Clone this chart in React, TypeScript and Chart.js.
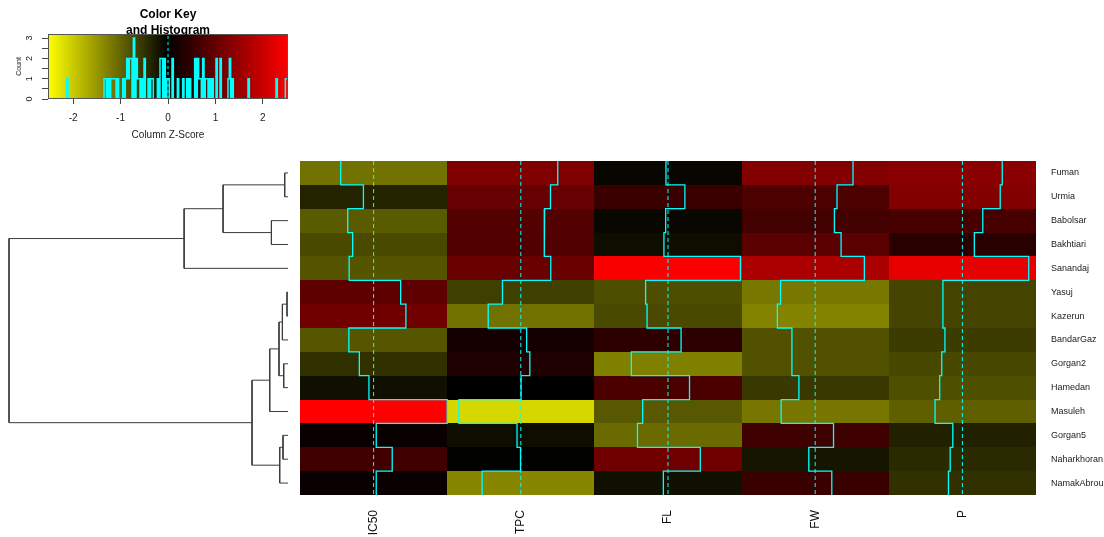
import React, { useEffect, useRef } from "react";
import { Chart, registerables } from "chart.js";
Chart.register(...registerables);

// ---------- data ----------
const rowNames = ["Fuman", "Urmia", "Babolsar", "Bakhtiari", "Sanandaj", "Yasuj", "Kazerun", "BandarGaz", "Gorgan2", "Hamedan", "Masuleh", "Gorgan5", "Naharkhoran", "NamakAbrou"];
const colNames = ["IC50", "TPC", "FL", "FW", "P"];
// column z-scores, one array per column, in row order
const ic50 = [-1.13, -0.35, -0.89, -0.72, -0.84, 0.93, 1.11, -0.85, -0.49, -0.16, 2.53, 0.09, 0.64, 0.09];
const tpc = [1.27, 1.02, 0.82, 0.80, 1.03, -0.63, -1.12, 0.20, 0.31, 0.01, -2.13, -0.13, -0.01, -1.33];
const fl = [-0.07, 0.58, -0.08, -0.14, 2.49, -0.77, -0.72, 0.45, -1.26, 0.74, -0.87, -1.05, 1.11, -0.16];
const fw = [1.30, 0.75, 0.66, 0.89, 1.69, -1.19, -1.30, -0.80, -0.80, -0.56, -1.17, 0.63, -0.22, 0.57];
const pCol = [1.37, 1.30, 0.70, 0.41, 2.28, -0.67, -0.67, -0.60, -0.71, -0.78, -0.94, -0.33, -0.42, -0.48];

const zLimit = 2.53;
const histBins = 180;
const keyTicks = [-2, -1, 0, 1, 2];
const countTicks = [0, 0.5, 1, 1.5, 2, 2.5, 3];
const countMax = 3.2;

// row dendrogram (hclust-style merge: negative = leaf, positive = earlier merge)
const mergeA = [-1, -3, 1, 3, -6, 5, -9, 6, 8, -12, 10, 9, 4];
const mergeB = [-2, -4, 2, -5, -7, -8, -10, 7, -11, -13, -14, 11, 12];
const mergeHeight = [0.33, 1.66, 6.5, 10.4, 0.1, 0.56, 0.43, 0.9, 1.83, 0.5, 0.83, 3.6, 27.93];

const FONT = "'Liberation Sans', Arial, Helvetica, sans-serif";
const CYAN = "#00ffff";

const columns = [ic50, tpc, fl, fw, pCol];

function zColor(z: number): string {
  const t = Math.min(1, Math.abs(z) / zLimit);
  const v = Math.round(t * 255);
  return z < 0 ? `rgb(${v},${v},0)` : `rgb(${v},0,0)`;
}
const clampZ = (z: number) => Math.max(-zLimit, Math.min(zLimit, z));

// ---------- components ----------
function ColorKey() {
  const ref = useRef<HTMLCanvasElement>(null);
  useEffect(() => {
    const all = columns.flat();
    const counts = new Array(histBins).fill(0);
    all.forEach((v) => {
      const b = Math.min(histBins - 1, Math.max(0, Math.floor(((clampZ(v) + zLimit) / (2 * zLimit)) * histBins)));
      counts[b] += 1;
    });
    const histPts = Array.from({ length: histBins + 1 }, (_, i) => ({
      x: -zLimit + (i * 2 * zLimit) / histBins,
      y: counts[Math.min(i, histBins - 1)],
    }));
    const gradientPlugin = {
      id: "keyGradient",
      beforeDatasetsDraw(chart: any) {
        const { ctx, chartArea: a, scales } = chart;
        const xs = scales.x;
        const x0 = xs.getPixelForValue(-zLimit);
        const x1 = xs.getPixelForValue(zLimit);
        const g = ctx.createLinearGradient(x0, 0, x1, 0);
        g.addColorStop(0, zColor(-zLimit));
        g.addColorStop(0.5, zColor(0));
        g.addColorStop(1, zColor(zLimit));
        ctx.save();
        ctx.fillStyle = g;
        ctx.fillRect(a.left, a.top, a.right - a.left, a.bottom - a.top);
        ctx.restore();
      },
      afterDatasetsDraw(chart: any) {
        const { ctx, chartArea: a } = chart;
        ctx.save();
        ctx.strokeStyle = "#555";
        ctx.lineWidth = 1;
        ctx.strokeRect(a.left + 0.5, a.top + 0.5, a.right - a.left - 1, a.bottom - a.top - 1);
        ctx.fillStyle = "#000";
        ctx.font = `bold 12px ${FONT}`;
        ctx.textAlign = "center";
        ctx.textBaseline = "middle";
        const cx = (a.left + a.right) / 2;
        ctx.fillText("Color Key", cx, a.top - 19);
        ctx.fillText("and Histogram", cx, a.top - 3);
        ctx.restore();
      },
    };
    const chart = new Chart(ref.current!, {
      type: "scatter",
      data: {
        datasets: [
          {
            data: histPts,
            showLine: true,
            stepped: "before",
            borderColor: CYAN,
            borderWidth: 1.5,
            pointRadius: 0,
          } as any,
          {
            data: [{ x: 0, y: 0 }, { x: 0, y: countMax }],
            showLine: true,
            borderColor: CYAN,
            borderWidth: 1,
            borderDash: [3, 3],
            pointRadius: 0,
          },
        ],
      },
      options: {
        animation: false,
        responsive: false,
        events: [],
        layout: { padding: { top: 34, right: 12, left: 0, bottom: 0 } },
        plugins: { legend: { display: false }, tooltip: { enabled: false } },
        scales: {
          x: {
            type: "linear",
            min: -zLimit,
            max: zLimit,
            afterBuildTicks: (s: any) => {
              s.ticks = keyTicks.map((v) => ({ value: v }));
            },
            grid: { display: true, drawOnChartArea: false, drawTicks: true, tickLength: 5, color: "#444" },
            border: { display: false },
            ticks: { font: { size: 10, family: FONT }, color: "#222", padding: 8, maxRotation: 0 },
            title: { display: true, text: "Column Z-Score", font: { size: 10, family: FONT }, color: "#222", padding: 4 },
            afterFit: (s: any) => {
              s.height = 46;
              s.paddingLeft = 0;
              s.paddingRight = 0;
            },
          },
          y: {
            type: "linear",
            min: 0,
            max: countMax,
            afterBuildTicks: (s: any) => {
              s.ticks = countTicks.map((v) => ({ value: v }));
            },
            grid: { display: true, drawOnChartArea: false, drawTicks: true, tickLength: 6, color: "#444" },
            border: { display: false },
            ticks: {
              font: { size: 9, family: FONT },
              color: "#222",
              padding: 10,
              minRotation: 90,
              maxRotation: 90,
              crossAlign: "center",
              callback: (v: any) => (Number.isInteger(v) ? String(v) : ""),
            },
            title: { display: true, text: "Count", font: { size: 7, family: FONT }, color: "#222", padding: 15 },
            afterFit: (s: any) => {
              s.width = 48;
              s.paddingTop = 0;
              s.paddingBottom = 0;
            },
          },
        },
      } as any,
      plugins: [gradientPlugin],
    });
    return () => chart.destroy();
  }, []);
  return <canvas ref={ref} width={300} height={145} style={{ position: "absolute", left: 0, top: 0 }} />;
}

function Dendrogram() {
  const ref = useRef<HTMLCanvasElement>(null);
  useEffect(() => {
    const nodeY: number[] = [];
    const nodeH: number[] = [];
    const pos = (id: number) => (id < 0 ? { y: -id - 1 + 0.5, h: 0 } : { y: nodeY[id - 1], h: nodeH[id - 1] });
    const datasets: any[] = [];
    mergeA.forEach((a, i) => {
      const pa = pos(a);
      const pb = pos(mergeB[i]);
      const h = mergeHeight[i];
      nodeY.push((pa.y + pb.y) / 2);
      nodeH.push(h);
      datasets.push({
        data: [
          { x: pa.h, y: pa.y },
          { x: h, y: pa.y },
          { x: h, y: pb.y },
          { x: pb.h, y: pb.y },
        ],
        showLine: true,
        borderColor: "#3c3c3c",
        borderWidth: 1,
        pointRadius: 0,
        clip: false,
      });
    });
    const chart = new Chart(ref.current!, {
      type: "scatter",
      data: { datasets },
      options: {
        animation: false,
        responsive: false,
        events: [],
        layout: { padding: { top: 6, bottom: 5, left: 9, right: 12 } },
        plugins: { legend: { display: false }, tooltip: { enabled: false } },
        scales: {
          x: { type: "linear", min: 0, max: mergeHeight[mergeHeight.length - 1], reverse: true, display: false },
          y: { type: "linear", min: 0, max: rowNames.length, reverse: true, display: false },
        },
      } as any,
    });
    return () => chart.destroy();
  }, []);
  return <canvas ref={ref} width={300} height={345} style={{ position: "absolute", left: 0, top: 155 }} />;
}

function Heatmap() {
  const ref = useRef<HTMLCanvasElement>(null);
  useEffect(() => {
    const nRows = rowNames.length;
    const datasets: any[] = [];
    columns.forEach((col, c) => {
      datasets.push({
        data: [
          { x: c + 0.5, y: 0 },
          { x: c + 0.5, y: nRows },
        ],
        showLine: true,
        borderColor: CYAN,
        borderWidth: 1,
        borderDash: [4, 3],
        pointRadius: 0,
      });
    });
    columns.forEach((col, c) => {
      const pts: any[] = [];
      col.forEach((z, r) => {
        const x = c + (clampZ(z) + zLimit) / (2 * zLimit);
        pts.push({ x, y: r }, { x, y: r + 1 });
      });
      datasets.push({
        data: pts,
        showLine: true,
        borderColor: CYAN,
        borderWidth: 1.3,
        pointRadius: 0,
        clip: false,
      });
    });
    const cellPlugin = {
      id: "cells",
      beforeDatasetsDraw(chart: any) {
        const { ctx, scales } = chart;
        const xs = scales.x;
        const ys = scales.y;
        ctx.save();
        columns.forEach((col, c) => {
          const x0 = Math.round(xs.getPixelForValue(c));
          const x1 = Math.round(xs.getPixelForValue(c + 1));
          col.forEach((z, r) => {
            const y0 = Math.round(ys.getPixelForValue(r));
            const y1 = Math.round(ys.getPixelForValue(r + 1));
            ctx.fillStyle = zColor(z);
            ctx.fillRect(x0, y0, x1 - x0, y1 - y0);
          });
        });
        ctx.restore();
      },
    };
    const chart = new Chart(ref.current!, {
      type: "scatter",
      data: { datasets },
      options: {
        animation: false,
        responsive: false,
        events: [],
        layout: { padding: { top: 6, left: 5, right: 0, bottom: 0 } },
        plugins: { legend: { display: false }, tooltip: { enabled: false } },
        scales: {
          x: { type: "linear", min: 0, max: colNames.length, display: false },
          y: { type: "linear", min: 0, max: nRows, reverse: true, display: false },
          xLab: {
            type: "category",
            axis: "x",
            labels: colNames,
            position: "bottom",
            offset: true,
            grid: { display: false, drawTicks: false },
            border: { display: false },
            ticks: { autoSkip: false, minRotation: 90, maxRotation: 90, padding: 15, font: { size: 12, family: FONT }, color: "#111" },
            afterFit: (s: any) => {
              s.height = 42;
              s.paddingLeft = 0;
              s.paddingRight = 0;
            },
          },
          yLab: {
            type: "category",
            axis: "y",
            labels: rowNames,
            position: "right",
            offset: true,
            grid: { display: false, drawTicks: false },
            border: { display: false },
            ticks: { autoSkip: false, padding: 15, font: { size: 9, family: FONT }, color: "#222" },
            afterFit: (s: any) => {
              s.width = 68;
              s.paddingTop = 0;
              s.paddingBottom = 0;
            },
          },
        },
      } as any,
      plugins: [cellPlugin],
    });
    return () => chart.destroy();
  }, []);
  return <canvas ref={ref} width={809} height={382} style={{ position: "absolute", left: 295, top: 155 }} />;
}

export default function App() {
  return (
    <div style={{ position: "absolute", left: 0, top: 0, width: 1104, height: 537, background: "#fff", overflow: "hidden" }}>
      <ColorKey />
      <Dendrogram />
      <Heatmap />
    </div>
  );
}
